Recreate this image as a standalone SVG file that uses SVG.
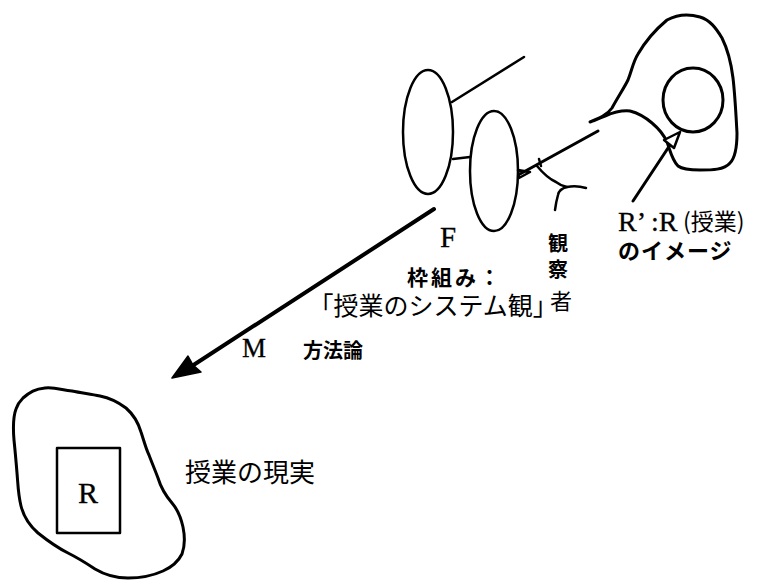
<svg xmlns="http://www.w3.org/2000/svg" width="759" height="582" viewBox="0 0 759 582">
<style>
.ln{fill:none;stroke:#000;stroke-width:3;stroke-linecap:round;stroke-linejoin:round}
.thin{fill:none;stroke:#000;stroke-width:2.5;stroke-linecap:round;stroke-linejoin:round}
.jp{font-family:"Noto Sans CJK JP","Noto Sans",sans-serif;fill:#000}
.jpb{font-family:"Noto Sans CJK JP","Noto Sans",sans-serif;font-weight:bold;fill:#000}
.sf{font-family:"Liberation Serif",serif;fill:#000;stroke:#000;stroke-width:0.3}
</style>
<rect width="759" height="582" fill="#fff"/>
<g id="lens-back">
<ellipse class="thin" cx="428" cy="132" rx="25" ry="62"/>
</g>
<g id="lens-front">
<ellipse class="thin" cx="494" cy="171" rx="24" ry="60"/>
</g>
<g id="observer">
<path class="thin" d="M518,170 L530,172 L519,178 Z"/>
<path class="thin" d="M539,159 L541,166"/>
<path class="thin" d="M537,166 Q547,178 556,182 Q561,186 567,187 Q576,185 586,188"/>
<path class="thin" d="M567,187 Q559,189 558,195 Q556,202 555,210"/>
</g>
<g id="image-cloud">
<path class="ln" d="M590,122 C600,118 607,115 612,108 C618,97 624,88 628,80 C632,70 633,62 638,54 C645,42 655,30 667,20 C678,14 690,14 700,17 C710,20 716,28 722,38 C728,50 731,62 733,78 C735,95 736,115 737,133 C737,148 735,158 730,163 C724,170 712,170 700,170 C690,170 682,169 678,166 C672,160 670,150 667,142 C663,133 658,128 652,123 C645,117 638,113 630,111 C620,110 612,113 605,116 C598,119 594,121 590,122 Z"/>
<ellipse class="ln" cx="693" cy="100" rx="30" ry="32"/>
</g>
<g id="reality-cloud">
<path class="ln" d="M23,398 C30,392 35,389 45,388 C55,387 62,390 72,391 C82,393 90,394 100,396 C110,398 118,402 126,408 C134,415 138,422 141,432 C144,441 146,449 149,455 C152,463 155,470 158,478 C161,488 166,496 172,503 C178,510 181,518 183,527 C185,537 185,546 182,554 C178,562 172,567 163,571 C152,576 140,578 128,578 C115,578 105,575 95,569 C86,563 78,558 68,553 C58,548 48,541 38,533 C30,526 24,518 21,506 C18,494 18,484 17,473 C16,460 15,450 14,440 C13,428 13,417 16,409 C18,403 20,401 23,398 Z"/>
<rect class="thin" x="57" y="448" width="63" height="85"/>
</g>
<g id="connectors">
<line class="thin" x1="452" y1="102" x2="524" y2="57"/>
<line class="thin" x1="453" y1="159" x2="470" y2="157"/>
<line class="ln" x1="520" y1="174" x2="598" y2="131"/>
<line class="ln" x1="633" y1="201" x2="672" y2="142"/>
<path d="M680,132 L664,140 L674,148 Z" fill="#fff" stroke="#000" stroke-width="2.5" stroke-linejoin="round"/>
<line x1="434" y1="209" x2="192" y2="366" stroke="#000" stroke-width="4" stroke-linecap="round"/>
<path d="M172,378 L188,356 L193,365 L201,372 Z" fill="#000" stroke="#000" stroke-width="1.5" stroke-linejoin="round"/>
</g>
<g id="labels">
<text class="sf" x="440" y="247" font-size="29">F</text>
<text class="jpb" x="407" y="285" font-size="21" letter-spacing="3">枠組み：</text>
<text class="jp" x="321" y="315" font-size="25">｢授業のシステム観｣</text>
<text class="jpb" x="548" y="251" font-size="20">観</text>
<text class="jpb" x="548" y="277" font-size="20">察</text>
<text class="jp" x="550" y="309" font-size="22">者</text>
<text class="sf" x="618" y="231" font-size="28">R’ :R</text>
<text class="jp" x="683" y="230" font-size="23">(授業)</text>
<text class="jpb" x="618" y="259" font-size="22" letter-spacing="1">のイメージ</text>
<text class="sf" x="242" y="357" font-size="27">M</text>
<text class="jpb" x="303" y="358" font-size="20">方法論</text>
<text class="sf" x="78" y="503" font-size="30">R</text>
<text class="jp" x="185" y="482" font-size="26">授業の現実</text>
</g>
</svg>
